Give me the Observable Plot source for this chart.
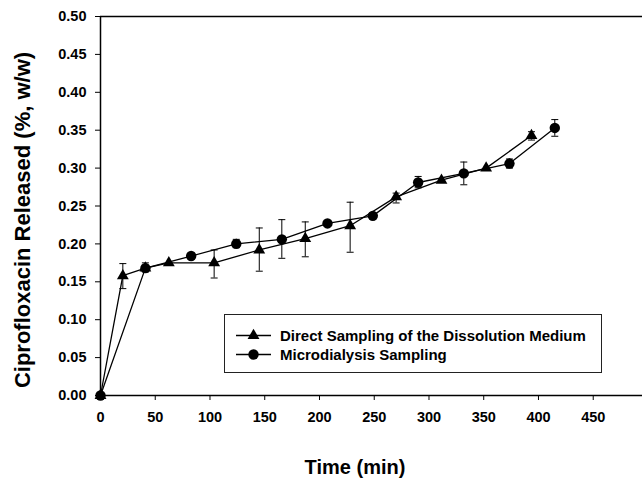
<!DOCTYPE html>
<html>
<head>
<meta charset="utf-8">
<script src="https://cdn.jsdelivr.net/npm/d3@7"></script>
<script src="https://cdn.jsdelivr.net/npm/@observablehq/plot@0.6"></script>
<style>
  html, body { margin: 0; padding: 0; background: #fff; }
  #wrap { position: relative; width: 642px; height: 489px; font-family: "Liberation Sans", Arial, sans-serif; }
  #legend { position: absolute; left: 224px; top: 314px; width: 376px; height: 57px; border: 1px solid #222; background: #fff; box-sizing: content-box; }
  .row { position: absolute; left: 11px; height: 19px; display: flex; align-items: center; font-weight: bold; font-size: 15px; color: #000; white-space: nowrap; }
  .row svg { margin-right: 9px; }
</style>
</head>
<body>
<div id="wrap"></div>
<script>
// Direct sampling of the dissolution medium (triangles)
const directTime = [0, 20.4, 41, 62.4, 103.8, 145, 187, 228, 270, 311.4, 352.2, 393.6];
const directValue = [0, 0.158, 0.168, 0.175, 0.175, 0.192, 0.207, 0.224, 0.262, 0.284, 0.300, 0.343];
const directLow = [null, 0.141, null, null, 0.155, 0.164, 0.183, 0.189, 0.254, null, null, 0.337];
const directHigh = [null, 0.174, null, null, 0.192, 0.221, 0.229, 0.255, 0.267, null, null, 0.348];

// Microdialysis sampling (circles)
const microTime = [0, 41, 82.8, 124, 165.6, 207.3, 248.7, 290.1, 331.8, 373.5, 414.9];
const microValue = [0, 0.168, 0.184, 0.200, 0.206, 0.227, 0.237, 0.281, 0.293, 0.306, 0.353];
const microLow = [null, 0.163, null, 0.195, 0.181, null, null, 0.274, 0.278, 0.300, 0.342];
const microHigh = [null, 0.175, null, 0.206, 0.232, null, null, 0.289, 0.308, 0.312, 0.364];

const xTicks = [0, 50, 100, 150, 200, 250, 300, 350, 400, 450];
const yTicks = [0, 0.05, 0.10, 0.15, 0.20, 0.25, 0.30, 0.35, 0.40, 0.45, 0.50];

const seriesNames = ["Direct Sampling of the Dissolution Medium", "Microdialysis Sampling"];
const xTitle = "Time (min)";
const yTitle = "Ciprofloxacin Released (%, w/w)";

const direct = directTime.map((t, i) => ({t, v: directValue[i], lo: directLow[i], hi: directHigh[i]}));
const micro = microTime.map((t, i) => ({t, v: microValue[i], lo: microLow[i], hi: microHigh[i]}));
const directErr = direct.filter(d => d.lo != null);
const microErr = micro.filter(d => d.lo != null);

const capSymbol = { draw(ctx) { ctx.moveTo(-3.5, 0); ctx.lineTo(3.5, 0); } };

const font = '"Liberation Sans", Arial, sans-serif';

const chart = Plot.plot({
  width: 642,
  height: 489,
  marginLeft: 100,
  marginRight: 0,
  marginTop: 16,
  marginBottom: 94,
  x: {domain: [0, 495]},
  y: {domain: [0, 0.5]},
  style: {fontFamily: font, fontWeight: "bold", fontSize: "14.5px", color: "#000", background: "#fff", overflow: "visible"},
  marks: [
    Plot.axisX({ticks: xTicks, tickSize: 5, tickPadding: 11, tickFormat: d => String(d), label: null, stroke: "#000"}),
    Plot.axisY({ticks: yTicks, tickSize: 5, tickPadding: 9, tickFormat: d3.format(".2f"), label: null, stroke: "#000"}),
    Plot.ruleX([0], {stroke: "#000", strokeWidth: 1.5}),
    Plot.ruleY([0], {stroke: "#000", strokeWidth: 1.5}),
    Plot.ruleY([0.5], {stroke: "#000", strokeWidth: 1.5}),
    // error bars
    Plot.ruleX(directErr, {x: "t", y1: "lo", y2: "hi", stroke: "#000", strokeWidth: 1}),
    Plot.dot(directErr, {x: "t", y: "lo", symbol: capSymbol, stroke: "#000", fill: "none", strokeWidth: 1}),
    Plot.dot(directErr, {x: "t", y: "hi", symbol: capSymbol, stroke: "#000", fill: "none", strokeWidth: 1}),
    Plot.ruleX(microErr, {x: "t", y1: "lo", y2: "hi", stroke: "#000", strokeWidth: 1}),
    Plot.dot(microErr, {x: "t", y: "lo", symbol: capSymbol, stroke: "#000", fill: "none", strokeWidth: 1}),
    Plot.dot(microErr, {x: "t", y: "hi", symbol: capSymbol, stroke: "#000", fill: "none", strokeWidth: 1}),
    // lines
    Plot.line(direct, {x: "t", y: "v", stroke: "#000", strokeWidth: 1.3}),
    Plot.line(micro, {x: "t", y: "v", stroke: "#000", strokeWidth: 1.3}),
    // markers
    Plot.dot(direct, {x: "t", y: "v", symbol: "triangle", r: 4.4, fill: "#000", stroke: "none"}),
    Plot.dot(micro, {x: "t", y: "v", symbol: "circle", r: 5.2, fill: "#000", stroke: "none"})
  ]
});

const svg = d3.select(chart);
svg.append("text")
  .attr("x", 100 + (642 - 100) / 2 - 16)
  .attr("y", 474)
  .attr("text-anchor", "middle")
  .attr("font-size", 20)
  .attr("font-weight", "bold")
  .attr("fill", "#000")
  .text(xTitle);
svg.append("text")
  .attr("transform", "translate(30,220) rotate(-90)")
  .attr("text-anchor", "middle")
  .attr("font-size", 22)
  .attr("font-weight", "bold")
  .attr("fill", "#000")
  .text(yTitle);

const wrap = document.getElementById("wrap");
wrap.appendChild(chart);

// legend
const legend = document.createElement("div");
legend.id = "legend";
const symbols = ["triangle", "circle"];
const sizes = [4.4, 5.2];
seriesNames.forEach((name, i) => {
  const row = document.createElement("div");
  row.className = "row";
  row.style.top = (11 + i * 19) + "px";
  const sw = d3.create("svg").attr("width", 35).attr("height", 19);
  sw.append("line").attr("x1", 0).attr("x2", 35).attr("y1", 9.5).attr("y2", 9.5).attr("stroke", "#000").attr("stroke-width", 1.3);
  const sym = symbols[i] === "triangle" ? d3.symbolTriangle : d3.symbolCircle;
  sw.append("path").attr("d", d3.symbol(sym, Math.PI * sizes[i] * sizes[i])()).attr("transform", "translate(17.5,9.5)").attr("fill", "#000");
  row.appendChild(sw.node());
  const span = document.createElement("span");
  span.textContent = name;
  row.appendChild(span);
  legend.appendChild(row);
});
wrap.appendChild(legend);
</script>
</body>
</html>
